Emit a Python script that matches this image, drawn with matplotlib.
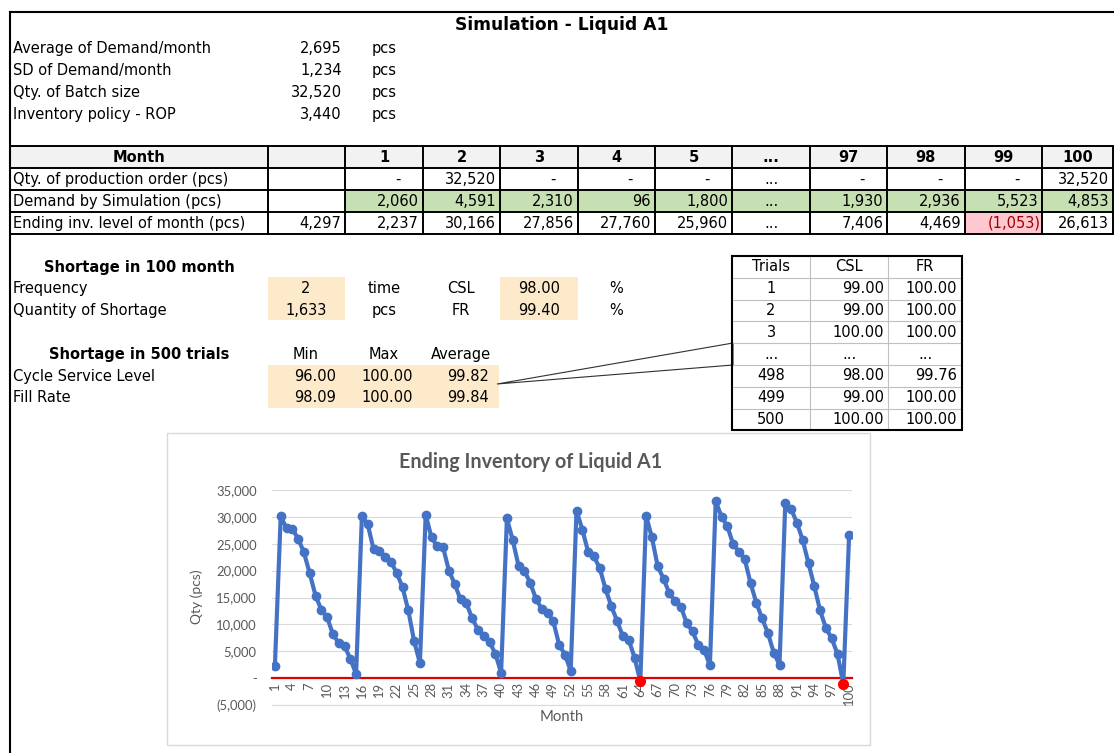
import numpy as np
import matplotlib.pyplot as plt
from matplotlib.patches import Rectangle, Polygon
from matplotlib.ticker import FuncFormatter, MultipleLocator

# model inputs
param_labels = ['Average of Demand/month', 'SD of Demand/month',
                'Qty. of Batch size', 'Inventory policy - ROP']
param_values = [2695, 1234, 32520, 3440]

# excerpt of the month-by-month simulation
month_cols = ['1', '2', '3', '4', '5', '...', '97', '98', '99', '100']
prod_order = [0, 32520, 0, 0, 0, None, 0, 0, 0, 32520]
demand_sim = [2060, 4591, 2310, 96, 1800, None, 1930, 2936, 5523, 4853]
ending_inv = [2237, 30166, 27856, 27760, 25960, None, 7406, 4469, -1053, 26613]
opening_inv = 4297

# shortage summary for this run
short_freq = 2
short_qty = 1633
short_csl = 98.00
short_fr = 99.40

# shortage over 500 trials
stat_cols = ['Min', 'Max', 'Average']
csl_stats = [96.00, 100.00, 99.82]
fr_stats = [98.09, 100.00, 99.84]

trial_ids = ['1', '2', '3', '...', '498', '499', '500']
trial_csl = [99.00, 99.00, 100.00, None, 98.00, 99.00, 100.00]
trial_fr = [100.00, 100.00, 100.00, None, 99.76, 100.00, 100.00]

# ending inventory, months 1..100
inv_level = [
    2237, 30166, 27856, 27760, 25960, 23400, 19500, 15370, 12720, 11360,
    8150, 6540, 5930, 3640, 740, 30190, 28640, 24010, 23700, 22590,
    21670, 19570, 16910, 12590, 6910, 2780, 30370, 26170, 24510, 24320,
    20000, 17530, 14630, 13950, 11170, 9010, 7840, 6730, 4570, 990,
    29750, 25680, 20930, 20000, 17780, 14780, 12900, 12160, 10560, 6240,
    4380, 1360, 31170, 27650, 23520, 22650, 20490, 16600, 13400, 10620,
    7780, 7160, 3830, -580, 30190, 26170, 20800, 18520, 15800, 14320,
    13270, 10220, 8700, 6170, 5310, 2350, 32900, 30060, 28270, 24940,
    23520, 22160, 17720, 14010, 11110, 8400, 4750, 2470, 32590, 31480,
    28890, 25680, 21360, 17100, 12590, 9320, 7406, 4469, -1053, 26613,
]
months = np.arange(1, len(inv_level) + 1)


def acct(v):
    if v is None:
        return '...'
    if v == 0:
        return '-'
    if v < 0:
        return '({:,})'.format(-v)
    return '{:,}'.format(v)


def pct(v):
    return '...' if v is None else '{:.2f}'.format(v)


W, H = 1114, 753
FS = 10.5
GREEN = '#c6e0b4'
PEACH = '#fdeacb'
PINK = '#ffc7ce'

plt.rcParams['font.family'] = 'DejaVu Sans'
fig = plt.figure(figsize=(W / 100, H / 100), dpi=100)
bg = fig.add_axes([0, 0, 1, 1])
bg.set_xlim(0, W)
bg.set_ylim(H, 0)
bg.axis('off')


def txt(x, y, s, ha='left', **kw):
    bg.text(x, y, s, ha=ha, va='center', fontsize=kw.pop('size', FS), **kw)


def fill(x0, x1, y0, y1, color):
    bg.add_patch(Rectangle((x0, y0), x1 - x0, y1 - y0, facecolor=color,
                           edgecolor='none', zorder=0))


# sheet frame
bg.plot([10, 10], [12, H], color='black', lw=1.5)
bg.plot([10, W], [12, 12], color='black', lw=1.5)

txt(562, 25, 'Simulation - Liquid A1', ha='center', weight='bold', size=12.3)

for i, (lab, val) in enumerate(zip(param_labels, param_values)):
    y = 48 + 22 * i
    txt(13, y, lab)
    txt(342, y, '{:,}'.format(val), ha='right')
    txt(372, y, 'pcs')

# month table
col_x = [10] + [268 + 77.4 * k for k in range(11)] + [1113]
row_y = [146, 168, 190, 212, 234]
fill(10, 1113, row_y[0], row_y[1], '#f2f2f2')
fill(col_x[2], col_x[-1], row_y[2], row_y[3], GREEN)
fill(col_x[10], col_x[11], row_y[3], row_y[4], PINK)
for y in row_y:
    bg.plot([10, 1113], [y, y], color='black', lw=1.4)
for x in col_x:
    bg.plot([x, x], [row_y[0], row_y[-1]], color='black', lw=1.4)

ymid = [(row_y[k] + row_y[k + 1]) / 2 for k in range(4)]
txt(139, ymid[0], 'Month', ha='center', weight='bold')
txt(13, ymid[1], 'Qty. of production order (pcs)')
txt(13, ymid[2], 'Demand by Simulation (pcs)')
txt(13, ymid[3], 'Ending inv. level of month (pcs)')
txt(col_x[2] - 4, ymid[3], acct(opening_inv), ha='right')

for k, m in enumerate(month_cols):
    x0, x1 = col_x[k + 2], col_x[k + 3]
    txt((x0 + x1) / 2, ymid[0], m, ha='center', weight='bold')
    for r, series in zip((1, 2, 3), (prod_order, demand_sim, ending_inv)):
        v = series[k]
        s = acct(v)
        color = '#9c0006' if (v is not None and v < 0) else 'black'
        if v is None:
            txt((x0 + x1) / 2, ymid[r], s, ha='center')
        elif v == 0:
            txt(x1 - 25, ymid[r], s, ha='center')
        elif v < 0:
            txt(x1 - 1, ymid[r], s, ha='right', color=color)
        else:
            txt(x1 - 4, ymid[r], s, ha='right', color=color)

# shortage in this run
txt(139, 267, 'Shortage in 100 month', ha='center', weight='bold')
fill(268, 345, 277, 320, PEACH)
fill(500, 578, 277, 320, PEACH)
txt(13, 288, 'Frequency')
txt(13, 310, 'Quantity of Shortage')
txt(306, 288, str(short_freq), ha='center')
txt(306, 310, '{:,}'.format(short_qty), ha='center')
txt(384, 288, 'time', ha='center')
txt(384, 310, 'pcs', ha='center')
txt(461, 288, 'CSL', ha='center')
txt(461, 310, 'FR', ha='center')
txt(539, 288, '{:.2f}'.format(short_csl), ha='center')
txt(539, 310, '{:.2f}'.format(short_fr), ha='center')
txt(616, 288, '%', ha='center')
txt(616, 310, '%', ha='center')

# shortage over 500 trials
txt(139, 354, 'Shortage in 500 trials', ha='center', weight='bold')
fill(268, 499, 365, 408, PEACH)
for k, c in enumerate(stat_cols):
    txt(306 + 77.4 * k, 354, c, ha='center')
txt(13, 376, 'Cycle Service Level')
txt(13, 397, 'Fill Rate')
for k in range(3):
    xr = 336 + 76.5 * k
    txt(xr, 376, '{:.2f}'.format(csl_stats[k]), ha='right')
    txt(xr, 397, '{:.2f}'.format(fr_stats[k]), ha='right')

# callout to the trials table
bg.add_patch(Polygon([(497, 384), (733, 343), (733, 365)], closed=True,
                     facecolor='white', edgecolor='#303030', lw=0.8, zorder=1))

tx = [732, 810, 888, 962]
ty = [256 + 21.8 * k for k in range(9)]
for y in ty[1:-1]:
    bg.plot([tx[0], tx[-1]], [y, y], color='#bfbfbf', lw=0.8, zorder=2)
for x in tx[1:-1]:
    bg.plot([x, x], [ty[0], ty[-1]], color='#bfbfbf', lw=0.8, zorder=2)
bg.add_patch(Rectangle((tx[0], ty[0]), tx[-1] - tx[0], ty[-1] - ty[0],
                       facecolor='none', edgecolor='black', lw=1.5, zorder=3))
tym = [(ty[k] + ty[k + 1]) / 2 for k in range(8)]
txt(771, tym[0], 'Trials', ha='center')
txt(849, tym[0], 'CSL', ha='center')
txt(925, tym[0], 'FR', ha='center')
for k, t in enumerate(trial_ids):
    y = tym[k + 1]
    txt(771, y, t, ha='center')
    if trial_csl[k] is None:
        txt(849, y, '...', ha='center')
        txt(925, y, '...', ha='center')
    else:
        txt(884, y, pct(trial_csl[k]), ha='right')
        txt(957, y, pct(trial_fr[k]), ha='right')

# inventory chart
bg.add_patch(Rectangle((167, 433), 703, 312, facecolor='white',
                       edgecolor='#d9d9d9', lw=1.0, zorder=0))
GRAY = '#595959'
CF = 'Lato'
bg.text(531, 462, 'Ending Inventory of Liquid A1', ha='center', va='center',
        fontsize=14.2, weight='bold', color=GRAY, family=CF)
bg.text(197, 597, 'Qty (pcs)', ha='center', va='center', rotation=90,
        fontsize=10, color=GRAY, family=CF)
bg.text(562, 717, 'Month', ha='center', va='center', fontsize=10.7,
        color=GRAY, family=CF)

ax = fig.add_axes([272 / W, (H - 705) / H, 580 / W, 215 / H])
ax.patch.set_alpha(0)
ax.set_xlim(0.5, 100.5)
ax.set_ylim(-5000, 35000)
ax.yaxis.set_major_locator(MultipleLocator(5000))
ax.yaxis.set_major_formatter(FuncFormatter(lambda v, p: acct(int(round(v)))))
ax.grid(axis='y', color='#d9d9d9', lw=0.8)
ax.set_axisbelow(True)
# bottom gridline sits on the axes edge, draw it unclipped
ax.axhline(-5000, color='#d9d9d9', lw=0.8, clip_on=False, zorder=0)
for side in ('top', 'right', 'left'):
    ax.spines[side].set_visible(False)
ax.spines['bottom'].set_position(('data', 0))
ax.spines['bottom'].set_color('#e00000')
ax.spines['bottom'].set_linewidth(1.6)
ax.set_xticks(months[::3])
ax.set_xticklabels([str(m) for m in months[::3]], rotation=90)
ax.tick_params(axis='both', length=0, colors=GRAY, labelsize=9.4)
ax.tick_params(axis='x', pad=3)
ax.tick_params(axis='y', pad=11)
for lab in ax.get_xticklabels() + ax.get_yticklabels():
    lab.set_family(CF)

inv = np.array(inv_level)
ax.plot(months, inv, color='#4472c4', lw=3, marker='o', ms=6, zorder=3)
neg = inv < 0
ax.plot(months[neg], inv[neg], 'o', color='#ff0000', ms=7, zorder=4)

fig.savefig('out.png', dpi=100)
